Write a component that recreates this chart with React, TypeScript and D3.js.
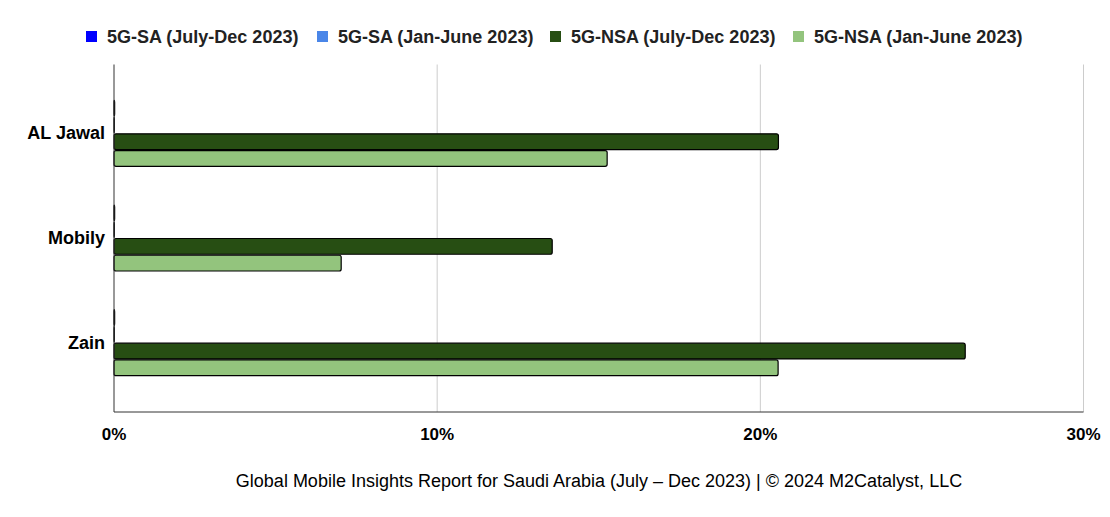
import * as d3 from 'd3';
import { useLayoutEffect, useRef } from 'react';

const operators = ['AL Jawal', 'Mobily', 'Zain'];
const seriesNames = [
  '5G-SA (July-Dec 2023)',
  '5G-SA (Jan-June 2023)',
  '5G-NSA (July-Dec 2023)',
  '5G-NSA (Jan-June 2023)',
];
const seriesColors = ['#0000ff', '#4a86e8', '#274e13', '#93c47d'];
// percent values per operator, in series order
const saJulyDec = [0.02, 0.02, 0.02];
const saJanJune = [0.01, 0.01, 0.01];
const nsaJulyDec = [20.56, 13.56, 26.34];
const nsaJanJune = [15.26, 7.03, 20.55];
const xTicks = [0, 10, 20, 30];
const footer =
  'Global Mobile Insights Report for Saudi Arabia (July \u2013 Dec 2023) | \u00a9 2024 M2Catalyst, LLC';

const width = 1110;
const height = 517;
const font = '"Liberation Sans", Arial, sans-serif';

const App = () => {
  const ref = useRef<SVGSVGElement>(null);

  useLayoutEffect(() => {
    const svg = d3.select(ref.current);
    svg.selectAll('*').remove();

    const plot = { left: 114, right: 1083.5, top: 64.5, bottom: 412 };
    const values = [saJulyDec, saJanJune, nsaJulyDec, nsaJanJune];

    const x = d3.scaleLinear().domain([0, 30]).range([plot.left, plot.right]);
    const y = d3
      .scaleBand()
      .domain(operators)
      .range([81, 395])
      .paddingInner(0.36)
      .paddingOuter(0.18);
    const y1 = d3
      .scaleBand()
      .domain(seriesNames)
      .range([0, y.bandwidth()]);

    // gridlines
    svg
      .append('g')
      .selectAll('line')
      .data(xTicks.slice(1))
      .join('line')
      .attr('x1', (d) => x(d))
      .attr('x2', (d) => x(d))
      .attr('y1', plot.top)
      .attr('y2', plot.bottom)
      .attr('stroke', '#cccccc')
      .attr('stroke-width', 1);

    // bars
    const groups = svg
      .append('g')
      .selectAll('g')
      .data(operators)
      .join('g')
      .attr('transform', (d) => `translate(0,${y(d)})`);

    groups
      .selectAll('rect')
      .data((d, i) => values.map((v, s) => ({ s, v: v[i] })))
      .join('rect')
      .attr('x', x(0))
      .attr('y', (d) => y1(seriesNames[d.s]) + 0.5)
      .attr('width', (d) => Math.max(0, x(d.v) - x(0)))
      .attr('height', y1.bandwidth() - 1)
      .attr('rx', 2)
      .attr('fill', (d) => seriesColors[d.s])
      .attr('stroke', '#000')
      .attr('stroke-width', 1.2);

    // axes lines
    svg
      .append('line')
      .attr('x1', x(0))
      .attr('x2', x(0))
      .attr('y1', plot.top)
      .attr('y2', plot.bottom)
      .attr('stroke', '#333');
    svg
      .append('line')
      .attr('x1', x(0))
      .attr('x2', plot.right)
      .attr('y1', plot.bottom)
      .attr('y2', plot.bottom)
      .attr('stroke', '#333');

    // x tick labels
    svg
      .append('g')
      .selectAll('text')
      .data(xTicks)
      .join('text')
      .attr('x', (d) => x(d))
      .attr('y', 440)
      .attr('text-anchor', 'middle')
      .attr('font-family', font)
      .attr('font-size', 17)
      .attr('font-weight', 'bold')
      .attr('fill', '#000')
      .text((d) => `${d}%`);

    // y labels
    svg
      .append('g')
      .selectAll('text')
      .data(operators)
      .join('text')
      .attr('x', 105)
      .attr('y', (d) => y(d) + y.bandwidth() / 2 + 6)
      .attr('text-anchor', 'end')
      .attr('font-family', font)
      .attr('font-size', 18)
      .attr('font-weight', 'bold')
      .attr('fill', '#000')
      .text((d) => d);

    // legend
    const legendX = [86, 317, 550, 793];
    const legend = svg
      .append('g')
      .selectAll('g')
      .data(seriesNames)
      .join('g')
      .attr('transform', (d, i) => `translate(${legendX[i]},31)`);
    legend
      .append('rect')
      .attr('width', 11)
      .attr('height', 11)
      .attr('fill', (d, i) => seriesColors[i]);
    legend
      .append('text')
      .attr('x', 21)
      .attr('y', 12)
      .attr('font-family', font)
      .attr('font-size', 18)
      .attr('font-weight', 'bold')
      .attr('fill', '#222')
      .text((d) => d);

    // footer
    svg
      .append('text')
      .attr('x', 599)
      .attr('y', 487)
      .attr('text-anchor', 'middle')
      .attr('font-family', font)
      .attr('font-size', 18)
      .attr('fill', '#000')
      .text(footer);
  }, []);

  return (
    <svg
      ref={ref}
      width={width}
      height={height}
      style={{ position: 'absolute', left: 0, top: 0, background: '#fff' }}
    />
  );
};

export default App;
